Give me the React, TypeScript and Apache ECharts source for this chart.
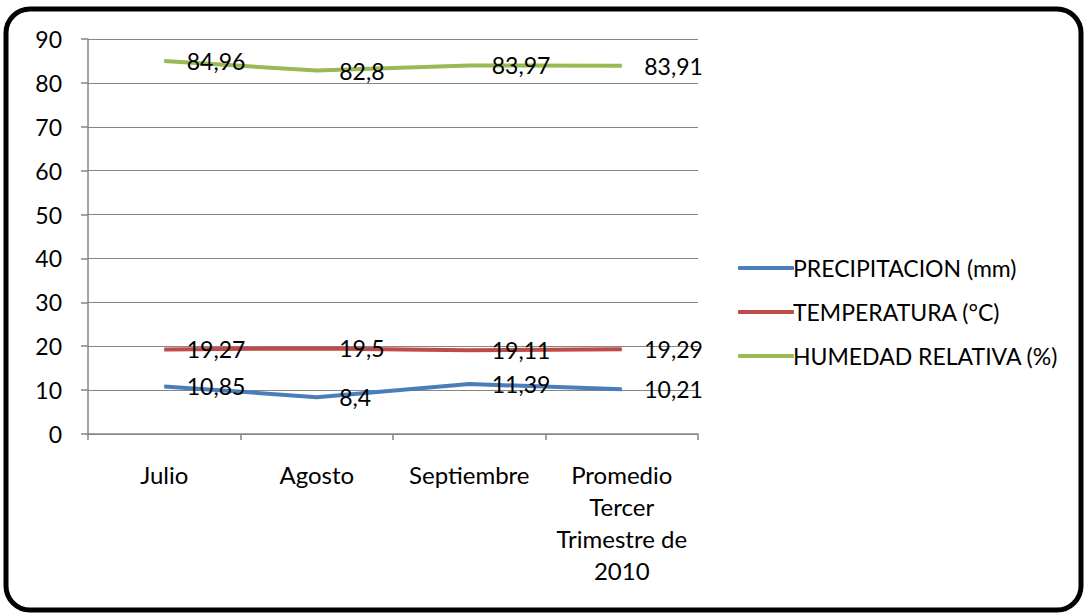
import React, { useEffect, useRef } from "react";
import * as echarts from "echarts";

const categories = ["Julio", "Agosto", "Septiembre", "Promedio\nTercer\nTrimestre de\n2010"];
const precipitacion = [10.85, 8.4, 11.39, 10.21];
const temperatura = [19.27, 19.5, 19.11, 19.29];
const humedad = [84.96, 82.8, 83.97, 83.91];
const seriesNames = ["PRECIPITACION (mm)", "TEMPERATURA (°C)", "HUMEDAD RELATIVA (%)"];
const colors = ["#4a7ebb", "#be4b48", "#98b954"];

const FONT = "Lato, 'Open Sans', sans-serif";

export default function App() {
  const ref = useRef<HTMLDivElement>(null);
  useEffect(() => {
    if (!ref.current) return;
    const chart = echarts.init(ref.current, undefined, { renderer: "svg" });
    const fmt = (p: any) => String(p.value).replace(".", ",");
    const mk = (name: string, data: number[], color: string) => ({
      name,
      type: "line",
      data,
      symbol: "circle",
      symbolSize: 1,
      showSymbol: true,
      lineStyle: { color, width: 4 },
      itemStyle: { color },
      labelLayout: { hideOverlap: false },
      label: {
        show: true,
        position: "right",
        distance: 22,
        offset: [0, 2],
        formatter: fmt,
        color: "#000",
        fontFamily: FONT,
        fontSize: 23,
      },
    });
    chart.setOption({
      animation: false,
      backgroundColor: "#fff",
      textStyle: { fontFamily: FONT },
      graphic: [
        {
          type: "rect",
          shape: { x: 6, y: 9, width: 1075, height: 601, r: 24 },
          style: { fill: "none", stroke: "#000", lineWidth: 5 },
          z: 100,
        },
      ],
      grid: { left: 88, right: 386, top: 39, bottom: 179 },
      legend: {
        orient: "vertical",
        left: 733,
        top: 251,
        itemWidth: 56,
        itemHeight: 4,
        itemGap: 20,
        data: seriesNames,
        icon: "roundRect",
        textStyle: {
          fontFamily: FONT,
          fontSize: 23,
          lineHeight: 24,
          color: "#000",
          padding: [0, 0, 0, -6],
        },
      },
      xAxis: {
        type: "category",
        data: categories,
        boundaryGap: true,
        axisLine: { lineStyle: { color: "#868686", width: 1.5 } },
        axisTick: { show: true, length: 6, lineStyle: { color: "#868686", width: 1.5 } },
        axisLabel: {
          interval: 0,
          margin: 24,
          color: "#000",
          fontFamily: FONT,
          fontSize: 24,
          lineHeight: 32,
        },
      },
      yAxis: {
        type: "value",
        min: 0,
        max: 90,
        interval: 10,
        axisLine: { show: true, lineStyle: { color: "#868686", width: 1.5 } },
        axisTick: { show: true, length: 7, lineStyle: { color: "#868686", width: 1.5 } },
        splitLine: { lineStyle: { color: "#868686", width: 1.2 } },
        axisLabel: { margin: 26, color: "#000", fontFamily: FONT, fontSize: 23 },
      },
      series: [
        mk(seriesNames[0], precipitacion, colors[0]),
        mk(seriesNames[1], temperatura, colors[1]),
        mk(seriesNames[2], humedad, colors[2]),
      ],
    });
    return () => chart.dispose();
  }, []);
  return (
    <div
      ref={ref}
      style={{ position: "fixed", left: 0, top: 0, width: 1084, height: 613 }}
    />
  );
}
